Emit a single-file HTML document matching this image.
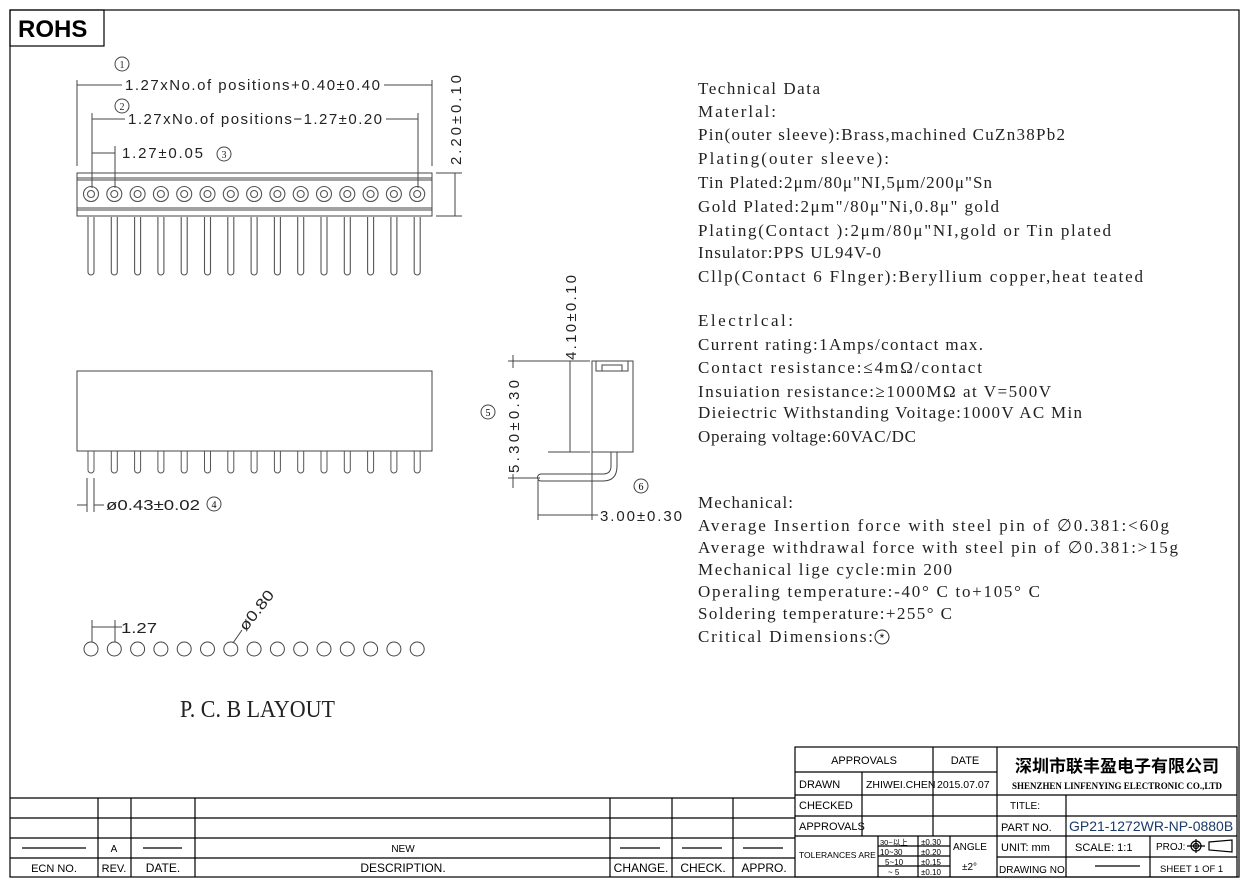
<!DOCTYPE html>
<html><head><meta charset="utf-8"><style>
html,body{margin:0;padding:0;background:#fff;}
svg{display:block;}
.s{font-family:"Liberation Sans",sans-serif;}
.r{font-family:"Liberation Serif","DejaVu Serif",serif;}
</style></head><body>
<svg width="1249" height="889" viewBox="0 0 1249 889" xmlns="http://www.w3.org/2000/svg">
<g fill="none" stroke="#000" stroke-width="1.2">
<rect x="10" y="10" width="1229" height="867"/>
<rect x="10" y="10" width="94" height="36"/>
</g>
<text x="18" y="37" class="s" font-size="24" font-weight="bold">ROHS</text>

<!-- top view -->
<g fill="none" stroke="#444" stroke-width="1">
<rect x="77" y="173" width="355" height="43"/>
<line x1="77" y1="178" x2="432" y2="178"/><line x1="77" y1="180" x2="432" y2="180"/>
<line x1="77" y1="208" x2="432" y2="208"/><line x1="77" y1="210" x2="432" y2="210"/>
<line x1="77" y1="80" x2="77" y2="166"/><line x1="432" y1="80" x2="432" y2="166"/>
<line x1="92" y1="113" x2="92" y2="188"/><line x1="418" y1="113" x2="418" y2="188"/>
<line x1="115" y1="146" x2="115" y2="188"/>
<line x1="77" y1="85" x2="122" y2="85"/><line x1="384" y1="85" x2="432" y2="85"/>
<line x1="92" y1="119" x2="125" y2="119"/><line x1="386" y1="119" x2="418" y2="119"/>
<line x1="92" y1="153" x2="115" y2="153"/>
<line x1="455" y1="173" x2="455" y2="216"/><line x1="436" y1="173" x2="462" y2="173"/><line x1="436" y1="216" x2="462" y2="216"/>
<circle cx="122" cy="64" r="7"/><circle cx="122" cy="106" r="7"/><circle cx="224" cy="154" r="7"/>
</g>
<g id="tp" fill="none" stroke="#555" stroke-width="1.1">
<circle cx="91" cy="194" r="7.5"/><circle cx="91" cy="194" r="3.5"/>
<path d="M88 217 V272 a3 3 0 0 0 6 0 V217"/>
</g>
<use href="#tp" x="23.3"/><use href="#tp" x="46.6"/><use href="#tp" x="69.9"/><use href="#tp" x="93.2"/>
<use href="#tp" x="116.5"/><use href="#tp" x="139.8"/><use href="#tp" x="163.1"/><use href="#tp" x="186.4"/>
<use href="#tp" x="209.7"/><use href="#tp" x="233"/><use href="#tp" x="256.3"/><use href="#tp" x="279.6"/>
<use href="#tp" x="302.9"/><use href="#tp" x="326.2"/>
<g class="s" font-size="15" fill="#222" lengthAdjust="spacingAndGlyphs">
<text x="125" y="90" textLength="255">1.27xNo.of  positions+0.40±0.40</text>
<text x="128" y="124" textLength="254">1.27xNo.of  positions−1.27±0.20</text>
<text x="122" y="158" textLength="81">1.27±0.05</text>
<text transform="translate(461,165) rotate(-90)" textLength="90">2.20±0.10</text>
</g>
<g class="r" font-size="10" fill="#222" text-anchor="middle">
<text x="122" y="68">1</text><text x="122" y="110">2</text><text x="224" y="158">3</text>
</g>

<!-- side view -->
<g fill="none" stroke="#444" stroke-width="1">
<rect x="77" y="371" width="355" height="80"/>
<line x1="87" y1="478" x2="87" y2="512"/><line x1="94" y1="478" x2="94" y2="512"/>
<line x1="77" y1="505" x2="87" y2="505"/><line x1="94" y1="505" x2="104" y2="505"/>
<circle cx="214" cy="504" r="7"/>
</g>
<g id="sp" fill="none" stroke="#555" stroke-width="1">
<path d="M88 451 V470 a3 3 0 0 0 6 0 V451"/>
</g>
<use href="#sp" x="23.3"/><use href="#sp" x="46.6"/><use href="#sp" x="69.9"/><use href="#sp" x="93.2"/>
<use href="#sp" x="116.5"/><use href="#sp" x="139.8"/><use href="#sp" x="163.1"/><use href="#sp" x="186.4"/>
<use href="#sp" x="209.7"/><use href="#sp" x="233"/><use href="#sp" x="256.3"/><use href="#sp" x="279.6"/>
<use href="#sp" x="302.9"/><use href="#sp" x="326.2"/>
<text x="106" y="510" class="s" font-size="15" fill="#222" textLength="94" lengthAdjust="spacingAndGlyphs">ø0.43±0.02</text>
<text x="214" y="508" class="r" font-size="10" text-anchor="middle">4</text>

<!-- PCB layout -->
<g id="pc" fill="none" stroke="#444" stroke-width="1"><circle cx="91" cy="649" r="7"/></g>
<use href="#pc" x="23.3"/><use href="#pc" x="46.6"/><use href="#pc" x="69.9"/><use href="#pc" x="93.2"/>
<use href="#pc" x="116.5"/><use href="#pc" x="139.8"/><use href="#pc" x="163.1"/><use href="#pc" x="186.4"/>
<use href="#pc" x="209.7"/><use href="#pc" x="233"/><use href="#pc" x="256.3"/><use href="#pc" x="279.6"/>
<use href="#pc" x="302.9"/><use href="#pc" x="326.2"/>
<g fill="none" stroke="#444" stroke-width="1">
<line x1="92" y1="620" x2="92" y2="642"/><line x1="115" y1="620" x2="115" y2="642"/>
<line x1="92" y1="627" x2="122" y2="627"/>
<line x1="233" y1="643" x2="242" y2="630"/>
</g>
<text x="121" y="633" class="s" font-size="15" fill="#222" textLength="36" lengthAdjust="spacingAndGlyphs">1.27</text>
<text transform="translate(246,632) rotate(-52)" class="s" font-size="15" fill="#222" textLength="47" lengthAdjust="spacingAndGlyphs">ø0.80</text>
<text x="180" y="717" class="r" font-size="24" fill="#222" textLength="155" lengthAdjust="spacingAndGlyphs">P. C. B  LAYOUT</text>

<!-- right side view -->
<g fill="none" stroke="#444" stroke-width="1">
<rect x="592" y="361" width="41" height="91"/>
<path d="M596 361 V371 H628 V361"/><rect x="602" y="365" width="20" height="6"/>
<path d="M611 452 V466 Q611 474 603 474 H541 a3.5 3.5 0 0 0 0 7 H603 Q617 481 617 466 V452"/>
<line x1="570" y1="361" x2="570" y2="452"/><line x1="548" y1="452" x2="590" y2="452"/>
<line x1="508" y1="361" x2="590" y2="361"/>
<line x1="513" y1="355" x2="513" y2="368"/><line x1="513" y1="474" x2="513" y2="488"/><line x1="508" y1="478" x2="540" y2="478"/>
<line x1="538" y1="480" x2="538" y2="520"/><line x1="592" y1="452" x2="592" y2="520"/>
<line x1="538" y1="515" x2="598" y2="515"/>
<circle cx="488" cy="412" r="7"/><circle cx="641" cy="486" r="7"/>
</g>
<g class="s" font-size="15" fill="#222" lengthAdjust="spacingAndGlyphs">
<text transform="translate(576,360) rotate(-90)" textLength="85">4.10±0.10</text>
<text transform="translate(519,473) rotate(-90)" textLength="93">5.30±0.30</text>
<text x="600" y="521" textLength="82">3.00±0.30</text>
</g>
<g class="r" font-size="10" text-anchor="middle"><text x="488" y="416">5</text><text x="641" y="490">6</text></g>

<!-- technical data -->
<g class="r" font-size="17" fill="#222" lengthAdjust="spacingAndGlyphs">
<text x="698" y="94" textLength="122">Technical Data</text>
<text x="698" y="117" textLength="78">Materlal:</text>
<text x="698" y="140" textLength="367">Pin(outer sleeve):Brass,machined CuZn38Pb2</text>
<text x="698" y="164" textLength="191">Plating(outer sleeve):</text>
<text x="698" y="188" textLength="294">Tin Plated:2μm/80μ"NI,5μm/200μ"Sn</text>
<text x="698" y="212" textLength="301">Gold Plated:2μm"/80μ"Ni,0.8μ" gold</text>
<text x="698" y="236" textLength="413">Plating(Contact ):2μm/80μ"NI,gold or Tin plated</text>
<text x="698" y="258" textLength="183">Insulator:PPS UL94V-0</text>
<text x="698" y="282" textLength="445">Cllp(Contact 6 Flnger):Beryllium copper,heat teated</text>
<text x="698" y="326" textLength="95">Electrlcal:</text>
<text x="698" y="350" textLength="285">Current rating:1Amps/contact max.</text>
<text x="698" y="373" textLength="284">Contact resistance:≤4mΩ/contact</text>
<text x="698" y="397" textLength="353">Insuiation resistance:≥1000MΩ at V=500V</text>
<text x="698" y="418" textLength="384">Dieiectric Withstanding Voitage:1000V AC Min</text>
<text x="698" y="442" textLength="218">Operaing voltage:60VAC/DC</text>
<text x="698" y="508" textLength="95">Mechanical:</text>
<text x="698" y="531" textLength="471">Average Insertion force with steel pin of ∅0.381:&lt;60g</text>
<text x="698" y="553" textLength="480">Average withdrawal force with steel pin of ∅0.381:&gt;15g</text>
<text x="698" y="575" textLength="254">Mechanical lige cycle:min 200</text>
<text x="698" y="597" textLength="342">Operaling temperature:-40° C  to+105° C</text>
<text x="698" y="619" textLength="254">Soldering temperature:+255° C</text>
<text x="698" y="642" textLength="175">Critical Dimensions:</text>
</g>
<circle cx="882" cy="637" r="7" fill="none" stroke="#222"/>
<text x="882" y="642" text-anchor="middle" font-size="12" class="s">*</text>

<!-- bottom left table -->
<g fill="none" stroke="#000" stroke-width="1.2">
<line x1="10" y1="798" x2="795" y2="798"/>
<line x1="10" y1="818" x2="795" y2="818"/>
<line x1="10" y1="838" x2="795" y2="838"/>
<line x1="10" y1="858" x2="795" y2="858"/>
<line x1="98" y1="798" x2="98" y2="877"/><line x1="131" y1="798" x2="131" y2="877"/>
<line x1="195" y1="798" x2="195" y2="877"/><line x1="610" y1="798" x2="610" y2="877"/>
<line x1="672" y1="798" x2="672" y2="877"/><line x1="733" y1="798" x2="733" y2="877"/>
<line x1="22" y1="848" x2="86" y2="848"/><line x1="143" y1="848" x2="182" y2="848"/>
<line x1="620" y1="848" x2="660" y2="848"/><line x1="682" y1="848" x2="722" y2="848"/><line x1="743" y1="848" x2="783" y2="848"/>
</g>
<g class="s" font-size="12" fill="#000" text-anchor="middle">
<text x="114" y="852" font-size="10">A</text>
<text x="403" y="852" font-size="10">NEW</text>
<text x="54" y="872" font-size="11">ECN NO.</text>
<text x="114" y="872" font-size="11">REV.</text>
<text x="163" y="872">DATE.</text>
<text x="403" y="872">DESCRIPTION.</text>
<text x="641" y="872">CHANGE.</text>
<text x="703" y="872">CHECK.</text>
<text x="764" y="872">APPRO.</text>
</g>

<!-- title block -->
<g fill="none" stroke="#000" stroke-width="1.2">
<rect x="795" y="747" width="442" height="130"/>
<line x1="795" y1="772" x2="997" y2="772"/>
<line x1="795" y1="795" x2="1237" y2="795"/>
<line x1="795" y1="816" x2="1237" y2="816"/>
<line x1="795" y1="836" x2="1237" y2="836"/>
<line x1="997" y1="857" x2="1237" y2="857"/>
<line x1="862" y1="772" x2="862" y2="836"/>
<line x1="933" y1="747" x2="933" y2="836"/>
<line x1="997" y1="747" x2="997" y2="877"/>
<line x1="1066" y1="795" x2="1066" y2="877"/>
<line x1="1150" y1="836" x2="1150" y2="877"/>
<line x1="878" y1="836" x2="878" y2="877"/>
<line x1="918" y1="836" x2="918" y2="877"/>
<line x1="950" y1="836" x2="950" y2="877"/>
<line x1="878" y1="846" x2="950" y2="846"/>
<line x1="878" y1="856" x2="950" y2="856"/>
<line x1="878" y1="866" x2="950" y2="866"/>
<line x1="1095" y1="866" x2="1140" y2="866"/>
<circle cx="1196" cy="846" r="5"/><circle cx="1196" cy="846" r="2.5"/>
<line x1="1187" y1="846" x2="1205" y2="846"/><line x1="1196" y1="839" x2="1196" y2="853"/>
<path d="M1209 842 L1232 840 V852 L1209 850 Z"/>
</g>
<g class="s" fill="#000" font-size="11">
<text x="864" y="764" text-anchor="middle">APPROVALS</text>
<text x="965" y="764" text-anchor="middle">DATE</text>
<text x="799" y="788">DRAWN</text>
<text x="866" y="788" font-size="10.5">ZHIWEI.CHEN</text>
<text x="937" y="788" font-size="10.5">2015.07.07</text>
<text x="799" y="809">CHECKED</text>
<text x="799" y="830">APPROVALS</text>
<text x="799" y="858" font-size="8.5">TOLERANCES  ARE</text>
<text x="880" y="845" font-size="7.5">30~以上</text><text x="921" y="845" font-size="8">±0.30</text>
<text x="880" y="855" font-size="8">10~30</text><text x="921" y="855" font-size="8">±0.20</text>
<text x="885" y="865" font-size="8">5~10</text><text x="921" y="865" font-size="8">±0.15</text>
<text x="888" y="875" font-size="8">~ 5</text><text x="921" y="875" font-size="8">±0.10</text>
<text x="953" y="850" font-size="10">ANGLE</text>
<text x="962" y="870" font-size="10">±2°</text>
<text x="1010" y="809" font-size="10">TITLE:</text>
<text x="1001" y="831">PART  NO.</text>
<text x="1069" y="831" font-size="14" fill="#1a3a6a">GP21-1272WR-NP-0880B</text>
<text x="1001" y="851">UNIT:  mm</text>
<text x="1075" y="851">SCALE:   1:1</text>
<text x="1156" y="850" font-size="10">PROJ:</text>
<text x="999" y="873" font-size="10">DRAWING  NO.</text>
<text x="1160" y="872" font-size="9.5">SHEET   1  OF  1</text>
</g>
<text x="1117" y="772" text-anchor="middle" font-family="'Noto Sans CJK SC','WenQuanYi Zen Hei',sans-serif" font-weight="bold" font-size="17" fill="#000">深圳市联丰盈电子有限公司</text>
<text x="1117" y="789" text-anchor="middle" class="r" font-size="9" font-weight="bold" textLength="210" lengthAdjust="spacingAndGlyphs">SHENZHEN LINFENYING ELECTRONIC CO.,LTD</text>
</svg>
</body></html>
